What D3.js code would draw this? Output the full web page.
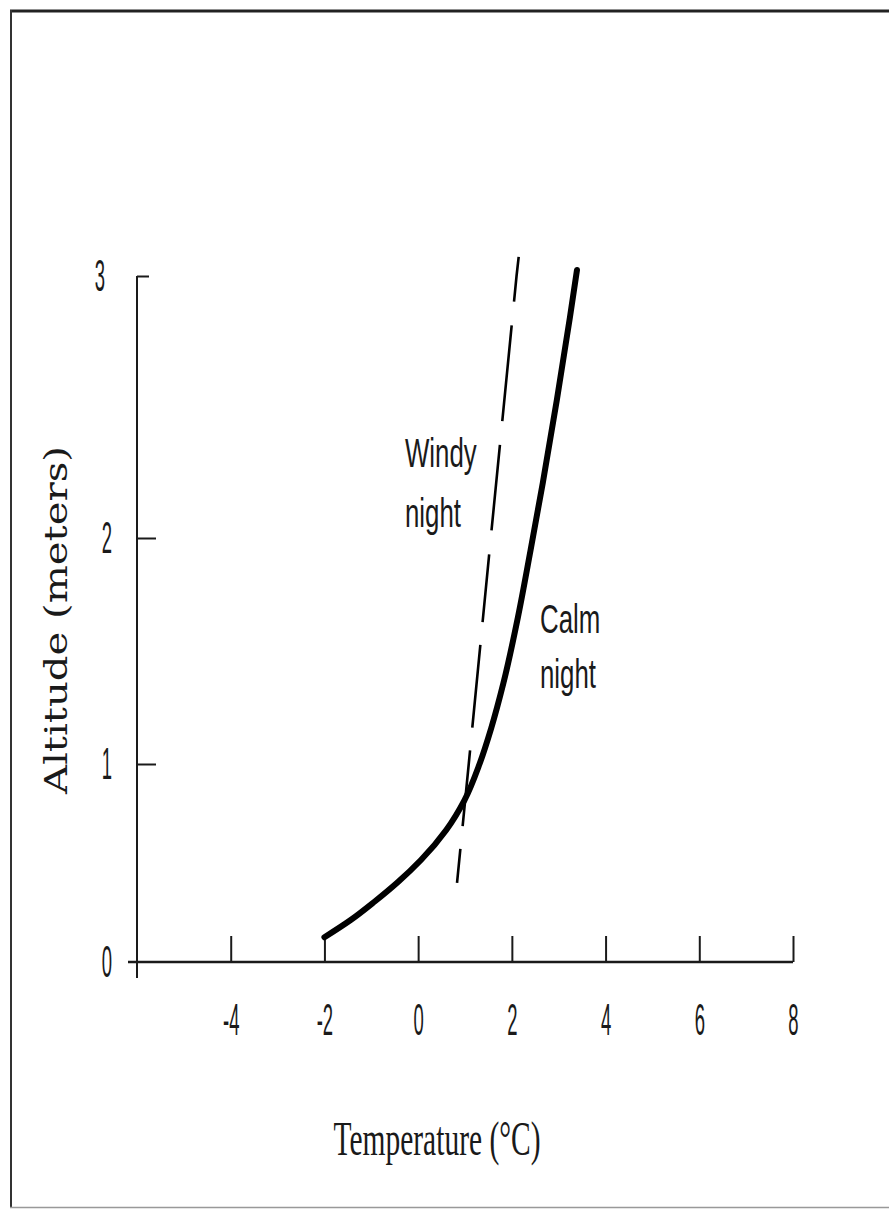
<!DOCTYPE html>
<html>
<head>
<meta charset="utf-8">
<script src="https://cdn.jsdelivr.net/npm/d3@7"></script>
<style>
    body { margin: 0; background: #ffffff; }
    svg { display: block; }
</style>
</head>
<body>
<svg id="chart" width="889" height="1209"></svg>
<script>
// ---- chart data ----
const xTicks = [-4, -2, 0, 2, 4, 6, 8];
const yTicks = [0, 1, 2, 3];

// calm night profile (temperature degC, altitude m)
const calmTemp = [-2.00, -1.44, -0.94, -0.43, 0.06, 0.60, 0.99, 1.31, 1.56, 1.82, 2.13, 2.40, 2.66, 2.96, 3.24, 3.39];
const calmAlt  = [0.125, 0.212, 0.303, 0.404, 0.515, 0.667, 0.818, 1.00, 1.159, 1.358, 1.65, 1.947, 2.21, 2.527, 2.843, 3.023];

// windy night profile
const windyTemp = [0.83, 1.08, 1.55, 2.10, 2.15];
const windyAlt  = [0.40, 1.00, 2.00, 3.00, 3.08];

const xTitle = 'Temperature (\u00b0C)';
const yTitle = 'Altitude (meters)';

// ---- scales ----
let svg = d3.select('#chart');

let x = d3.scaleLinear().domain([-6, 8]).range([137, 793]);
// the altitude axis of the original is not evenly spaced
let y = d3.scaleLinear().domain([0, 1, 2, 3]).range([962, 764, 538, 276]);

// ---- frame ----
let frame = svg.append('g').attr('class', 'frame');
frame.append('line')
    .attr('x1', 10).attr('x2', 889).attr('y1', 11).attr('y2', 11)
    .attr('stroke', '#222').attr('stroke-width', 3);
frame.append('line')
    .attr('x1', 11).attr('x2', 11).attr('y1', 10).attr('y2', 1208)
    .attr('stroke', '#333').attr('stroke-width', 2);
frame.append('line')
    .attr('x1', 10).attr('x2', 889).attr('y1', 1207.5).attr('y2', 1207.5)
    .attr('stroke', '#999').attr('stroke-width', 1.5);

// ---- axes ----
let axes = svg.append('g').attr('class', 'axes').attr('color', '#1a1a1a');

axes.append('line')
    .attr('x1', x(-6)).attr('x2', x(-6))
    .attr('y1', y(3)).attr('y2', y(0) + 16)
    .attr('stroke', '#1a1a1a').attr('stroke-width', 2);

axes.append('line')
    .attr('x1', x(-6) - 9).attr('x2', x(8))
    .attr('y1', y(0)).attr('y2', y(0))
    .attr('stroke', '#1a1a1a').attr('stroke-width', 2.5);

// x tick marks point up into the plot
let xMarks = axes.append('g')
    .attr('transform', `translate(0,${y(0)})`)
    .call(d3.axisTop(x).tickValues(xTicks).tickSize(26).tickFormat(''));
xMarks.select('.domain').remove();
xMarks.selectAll('line').attr('stroke-width', 2);

let xLabels = axes.append('g')
    .attr('transform', `translate(0,${y(0)})`)
    .call(d3.axisBottom(x).tickValues(xTicks).tickSize(0).tickPadding(42)
        .tickFormat((d) => { return String(d); }));
xLabels.select('.domain').remove();
xLabels.selectAll('text')
    .attr('font-family', 'Liberation Sans, Arial, sans-serif')
    .attr('font-size', 44)
    .attr('fill', '#1a1a1a')
    .attr('transform', 'scale(0.42,1)');

// y tick marks point right into the plot
let yMarks = axes.append('g')
    .attr('transform', `translate(${x(-6)},0)`)
    .call(d3.axisRight(y).tickValues(yTicks.filter((d) => { return d > 0; }))
        .tickSize(19).tickFormat(''));
yMarks.select('.domain').remove();
yMarks.selectAll('line').attr('stroke-width', 2);
yMarks.selectAll('.tick').filter((d) => { return d === 3; })
    .select('line').attr('x2', 12);

let yLabels = axes.append('g')
    .attr('transform', `translate(${x(-6)},0)`)
    .call(d3.axisLeft(y).tickValues(yTicks).tickSize(0)
        .tickFormat((d) => { return String(d); }));
yLabels.select('.domain').remove();
yLabels.selectAll('text')
    .attr('x', 0)
    .attr('font-family', 'Liberation Sans, Arial, sans-serif')
    .attr('font-size', 44)
    .attr('fill', '#1a1a1a')
    .attr('transform', (d) => { return d === 3 ? 'translate(-32,0) scale(0.42,1)' : 'translate(-25,0) scale(0.42,1)'; });

// ---- titles ----
svg.append('text')
    .attr('x', 437).attr('y', 1155)
    .attr('text-anchor', 'middle')
    .attr('font-family', 'Liberation Serif, Times New Roman, serif')
    .attr('font-size', 48)
    .attr('textLength', 207)
    .attr('lengthAdjust', 'spacingAndGlyphs')
    .attr('fill', '#1a1a1a')
    .text(xTitle);

svg.append('text')
    .attr('transform', 'translate(67,620) rotate(-90)')
    .attr('text-anchor', 'middle')
    .attr('font-family', 'DejaVu Serif, serif')
    .attr('font-size', 31)
    .attr('textLength', 348)
    .attr('lengthAdjust', 'spacingAndGlyphs')
    .attr('fill', '#1a1a1a')
    .text(yTitle);

// ---- curves ----
let calm = calmTemp.map((t, i) => { return { t: t, a: calmAlt[i] }; });
let windy = windyTemp.map((t, i) => { return { t: t, a: windyAlt[i] }; });

let line = d3.line()
    .x((d) => { return x(d.t); })
    .y((d) => { return y(d.a); });

svg.append('path')
    .datum(windy)
    .attr('d', line.curve(d3.curveLinear))
    .attr('fill', 'none')
    .attr('stroke', '#000')
    .attr('stroke-width', 2.6)
    .attr('stroke-dasharray', '34,23,76,23,83,23,68,24,86,24,96,24,45');

svg.append('path')
    .datum(calm)
    .attr('d', line.curve(d3.curveMonotoneY))
    .attr('fill', 'none')
    .attr('stroke', '#000')
    .attr('stroke-width', 6)
    .attr('stroke-linecap', 'round');

// ---- curve labels ----
let notes = [
    { text: 'Windy', px: 405, py: 467 },
    { text: 'night', px: 405, py: 527 },
    { text: 'Calm',  px: 540, py: 633 },
    { text: 'night', px: 540, py: 688 },
];
svg.selectAll('text.note')
    .data(notes)
    .enter()
    .append('text')
    .attr('class', 'note')
    .attr('transform', (d) => { return `translate(${d.px},${d.py}) scale(0.63,1)`; })
    .attr('font-family', 'Liberation Sans, Arial, sans-serif')
    .attr('font-size', 41)
    .attr('fill', '#1a1a1a')
    .text((d) => { return d.text; });
</script>
</body>
</html>
